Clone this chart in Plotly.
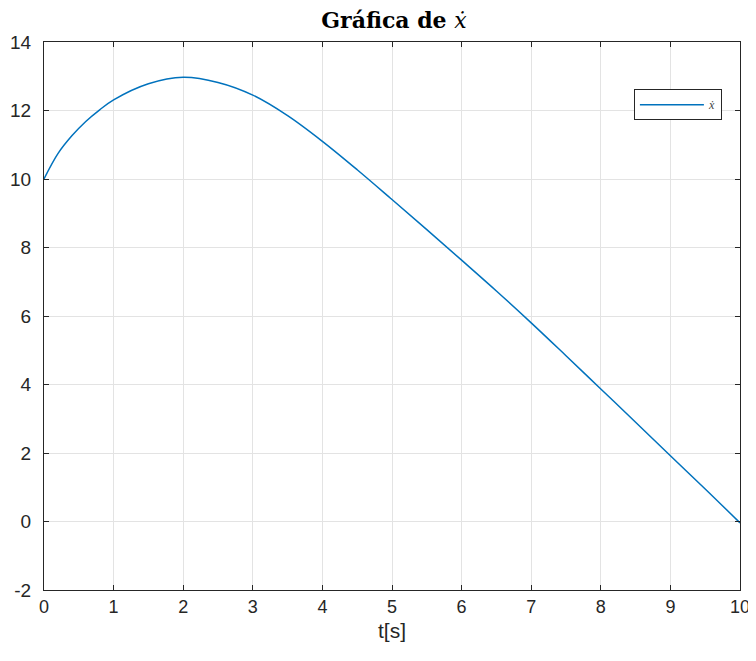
import plotly.graph_objects as go

t = [0, 0.2, 0.4, 0.6, 0.8, 1, 1.5, 2, 2.5, 3, 3.5, 4, 4.5, 5, 5.5, 6, 6.5, 7, 7.5, 8, 8.5, 9, 9.5, 10]
xdot = [10.0, 10.74, 11.26, 11.68, 12.02, 12.31, 12.78, 12.97, 12.82, 12.45, 11.85, 11.1, 10.27,
        9.4, 8.52, 7.63, 6.73, 5.8, 4.84, 3.87, 2.9, 1.92, 0.95, -0.04]

x_ticks = list(range(0, 11))
y_ticks = list(range(-2, 15, 2))
y_tick_text = [str(v) for v in y_ticks]

# page body has an 8px margin, so the figure is sized to the visible area
W, H = 748, 653

fig = go.Figure()
fig.add_trace(go.Scatter(
    x=t, y=xdot, mode="lines", name="<i>ẋ</i>",
    line=dict(color="#0072BD", width=1.5, shape="spline", smoothing=1.0),
))

tick_font = dict(family="Liberation Sans, Arial", size=19, color="#262626")
axis_common = dict(
    showline=True, linecolor="#262626", linewidth=1, mirror="ticks",
    ticks="inside", ticklen=5, tickcolor="#262626", tickwidth=1,
    showgrid=True, gridcolor="#e3e3e3", gridwidth=1, zeroline=False,
    tickfont=tick_font, automargin=False,
)

fig.update_xaxes(range=[0, 10], tickvals=x_ticks, ticktext=[str(v) for v in x_ticks],
                 tickfont=dict(family="Liberation Sans, Arial", size=18, color="#262626"),
                 **{k: v for k, v in axis_common.items() if k != "tickfont"})
fig.update_yaxes(range=[-2, 14], tickvals=y_ticks, ticktext=y_tick_text, ticklabelstandoff=8, **axis_common)

fig.add_annotation(text="t[s]", xref="paper", yref="paper", x=0.5, y=-40 / 548,
                   xanchor="center", yanchor="middle", showarrow=False,
                   font=dict(family="Liberation Sans, Arial", size=21, color="#262626"))

fig.update_layout(
    width=W, height=H,
    margin=dict(l=36, r=16, t=34, b=71),
    paper_bgcolor="white", plot_bgcolor="white",
    title=dict(text="<b>Gráfica de </b><i>ẋ</i>", x=386 / W, xanchor="center",
               y=1 - 12 / H, yanchor="middle", automargin=False,
               font=dict(family="DejaVu Serif, Liberation Serif", size=22, color="black")),
    showlegend=True,
    legend=dict(x=0.974, y=0.914, xanchor="right", yanchor="top",
                bordercolor="#262626", borderwidth=1, bgcolor="white",
                itemwidth=64,
                font=dict(family="Liberation Serif, serif", size=12, color="#444")),
)

fig.write_html("out.html")
